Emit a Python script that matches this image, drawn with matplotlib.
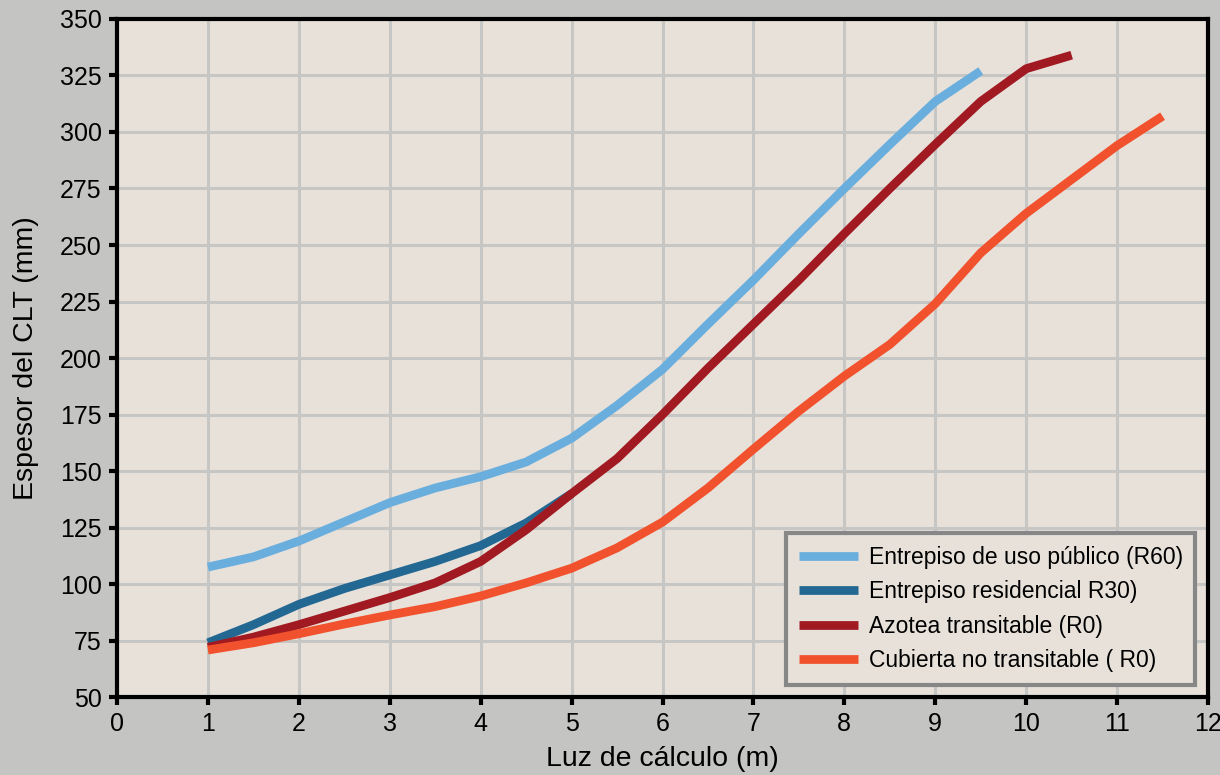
import numpy as np
import matplotlib
matplotlib.use("Agg")
import matplotlib.pyplot as plt

plt.rcParams['font.family'] = ['Liberation Sans', 'DejaVu Sans']

# span in metres, every 0.5 m
x_publico = [1, 1.5, 2, 2.5, 3, 3.5, 4, 4.5, 5, 5.5, 6, 6.5, 7, 7.5, 8, 8.5, 9, 9.5]
y_publico = [107.5, 112, 119, 127.5, 136, 142.5, 147.5, 154, 164.5, 179,
             195, 215, 234.5, 255, 275, 294.5, 313.5, 327]

x_residencial = [1, 1.5, 2, 2.5, 3, 3.5, 4, 4.5, 5]
y_residencial = [74, 82, 91, 98, 104, 110, 117, 127, 140]

x_azotea = [1, 1.5, 2, 2.5, 3, 3.5, 4, 4.5, 5, 5.5, 6, 6.5, 7, 7.5, 8, 8.5,
            9, 9.5, 10, 10.5]
y_azotea = [72, 76.5, 82, 88, 94, 100.5, 110, 124, 140, 155.5,
            175, 195.5, 215, 234.5, 255, 275, 294.5, 313.5, 328, 334]

x_cubierta = [1, 1.5, 2, 2.5, 3, 3.5, 4, 4.5, 5, 5.5, 6, 6.5, 7, 7.5, 8, 8.5,
              9, 9.5, 10, 10.5, 11, 11.5]
y_cubierta = [70.8, 74, 78, 82.3, 86.3, 90, 94.7, 100.5, 107, 116,
              127.4, 142.5, 159.7, 176.5, 192, 206, 224, 246.5, 264, 279,
              294, 307]

labels = ["Entrepiso de uso público (R60)", "Entrepiso residencial R30)",
          "Azotea transitable (R0)", "Cubierta no transitable ( R0)"]
colors = ["#6aaede", "#236892", "#a11a21", "#f1522d"]

fig = plt.figure(figsize=(12.2, 7.75), dpi=100, facecolor="#c4c5c3")
ax = fig.add_axes([0.0959, 0.1006, 0.8943, 0.8749])
ax.set_facecolor("#e7e1da")

lw = 6.3
ax.plot(x_publico, y_publico, color=colors[0], lw=lw, label=labels[0], solid_capstyle="butt")
ax.plot(x_residencial, y_residencial, color=colors[1], lw=lw, label=labels[1], solid_capstyle="butt")
ax.plot(x_azotea, y_azotea, color=colors[2], lw=lw, label=labels[2], solid_capstyle="butt")
ax.plot(x_cubierta, y_cubierta, color=colors[3], lw=lw, label=labels[3], solid_capstyle="butt")

ax.set_xlim(0, 12)
ax.set_ylim(50, 350)
ax.set_xticks(range(0, 13))
ax.set_yticks(range(50, 351, 25))
ax.grid(True, color="#c6c6c4", lw=2.2)
ax.set_axisbelow(True)

for s in ax.spines.values():
    s.set_linewidth(3)
    s.set_color("black")
ax.tick_params(axis="both", direction="out", length=6, width=3, labelsize=18,
               pad=5, color="black")
ax.tick_params(top=False, right=False)

ax.set_xlabel("Luz de cálculo (m)", fontsize=20.5, labelpad=7)
ax.set_ylabel("Espesor del CLT (mm)", fontsize=20.5, labelpad=15)

leg = ax.legend(loc="lower right", fontsize=16.5, frameon=True, fancybox=False,
                handlelength=2.6, handletextpad=0.45, borderpad=0.55,
                labelspacing=0.5, borderaxespad=0,
                bbox_to_anchor=(0.9885, 0.018))
leg.get_frame().set_edgecolor("#878787")
leg.get_frame().set_linewidth(3)
leg.get_frame().set_facecolor("#e7e1da")
leg.get_frame().set_alpha(1)

fig.savefig("out.png", dpi=100, facecolor=fig.get_facecolor())
